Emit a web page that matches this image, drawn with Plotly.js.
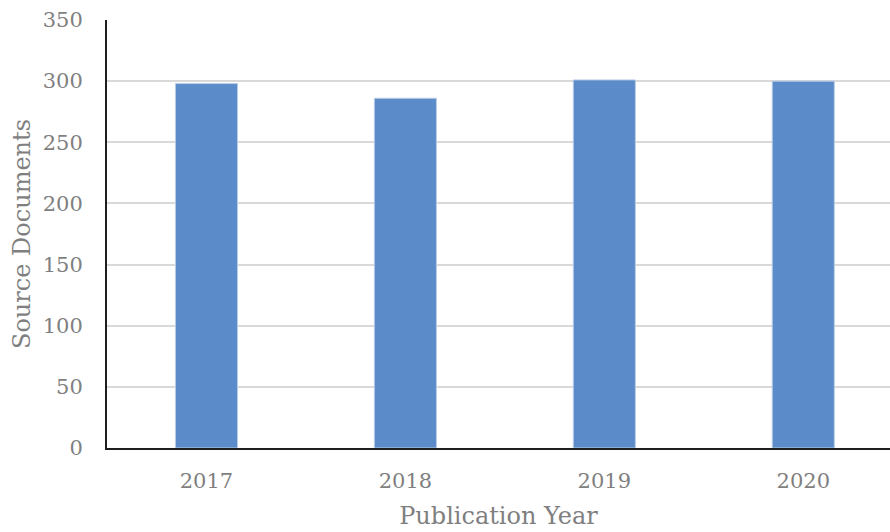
<!DOCTYPE html>
<html>
<head>
<meta charset="utf-8">
<script src="https://cdn.plot.ly/plotly-3.0.1.min.js"></script>
<style>html,body{margin:0;padding:0;background:#fff;}#chart{width:890px;height:532px;}</style>
</head>
<body>
<div id="chart"></div>
<script>
const years = ['2017', '2018', '2019', '2020'];
const sourceDocuments = [298, 286, 301, 300];
const yTicks = [0, 50, 100, 150, 200, 250, 300, 350];

const font = 'DejaVu Serif, Liberation Serif, serif';
const trace = {
  type: 'bar',
  x: years,
  y: sourceDocuments,
  width: 0.312,
  marker: { color: '#5b8bc8', line: { color: '#b9cde9', width: 1 } },
  hoverinfo: 'x+y'
};
const layout = {
  width: 890, height: 532,
  margin: { l: 107, r: 0, t: 20, b: 84 },
  paper_bgcolor: '#ffffff', plot_bgcolor: '#ffffff',
  showlegend: false,
  xaxis: {
    type: 'category',
    range: [-0.5, 3.436],
    showgrid: false,
    showline: true, linecolor: '#1e1e1e', linewidth: 2,
    ticks: '',
    ticklabelstandoff: 13,
    tickfont: { family: font, size: 21, color: '#7f7f7f' },
    title: { text: 'Publication Year', font: { family: font, size: 24, color: '#7f7f7f' }, standoff: 15 },
    zeroline: false
  },
  yaxis: {
    range: [0, 350],
    tickvals: yTicks,
    ticktext: yTicks.map(String),
    showgrid: true, gridcolor: '#d9d9d9', gridwidth: 2,
    showline: true, linecolor: '#1e1e1e', linewidth: 2,
    ticks: '',
    ticklabelstandoff: 18,
    tickfont: { family: font, size: 21, color: '#7f7f7f' },
    title: { text: 'Source Documents', font: { family: font, size: 24, color: '#7f7f7f' }, standoff: 5 },
    zeroline: false
  }
};
Plotly.newPlot('chart', [trace], layout, { displayModeBar: false, staticPlot: true });
</script>
</body>
</html>
